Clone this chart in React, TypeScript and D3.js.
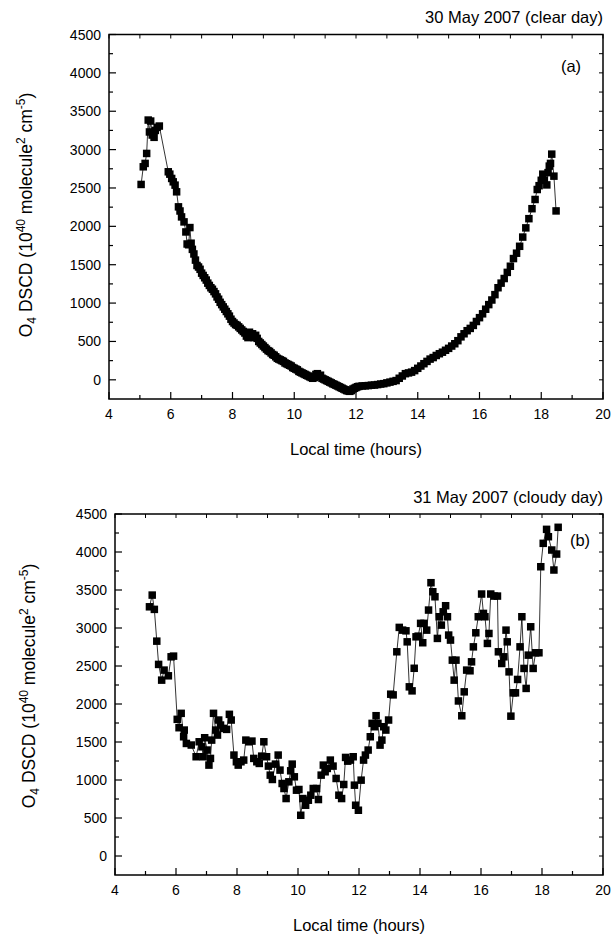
import React from 'react';
import * as d3 from 'd3';

// ---- Data: panel (a) 30 May 2007 (clear day) ----
const timesA = [
  5.04, 5.11, 5.17, 5.22, 5.27, 5.31, 5.35, 5.40, 5.46, 5.50, 5.56, 5.63,
  5.92, 5.97, 6.03, 6.08, 6.14, 6.19, 6.25, 6.30, 6.35, 6.43, 6.49, 6.53, 6.58, 6.62, 6.66,
  6.70, 6.75, 6.80, 6.85, 6.90, 6.95, 7.00, 7.05, 7.10, 7.15, 7.20, 7.25, 7.30, 7.35,
  7.40, 7.45, 7.50, 7.55, 7.60, 7.65, 7.70, 7.75, 7.80, 7.85, 7.90, 7.95, 8.00, 8.05,
  8.10, 8.15, 8.20, 8.25, 8.30, 8.35, 8.40, 8.45, 8.50, 8.55, 8.60, 8.65, 8.70, 8.75,
  8.80, 8.85, 8.90, 8.95, 9.00, 9.05, 9.10, 9.15, 9.20, 9.25, 9.30, 9.35, 9.40, 9.45,
  9.50, 9.55, 9.60, 9.65, 9.70, 9.75, 9.80, 9.85, 9.90, 9.95, 10.00, 10.05, 10.10, 10.15,
  10.20, 10.25, 10.30, 10.35, 10.40, 10.45, 10.50, 10.55, 10.60, 10.65, 10.70, 10.75,
  10.80, 10.85, 10.90, 10.95, 11.00, 11.05, 11.10, 11.15, 11.20, 11.25, 11.30, 11.35,
  11.40, 11.45, 11.50, 11.55, 11.60, 11.65, 11.70, 11.75, 11.80, 11.85, 11.90, 11.95,
  12.00, 12.05, 12.10, 12.20, 12.30, 12.40, 12.50, 12.60, 12.70, 12.80, 12.90, 13.00,
  13.10, 13.20, 13.30, 13.40, 13.50, 13.60, 13.70, 13.80, 13.90, 14.00, 14.10, 14.20,
  14.30, 14.40, 14.50, 14.60, 14.70, 14.80, 14.90, 15.00, 15.10, 15.20, 15.30, 15.40,
  15.50, 15.60, 15.70, 15.80, 15.90, 16.00, 16.10, 16.20, 16.30, 16.40, 16.50, 16.60,
  16.70, 16.80, 16.90, 17.00, 17.10, 17.20, 17.30, 17.40, 17.50, 17.60, 17.70, 17.80,
  17.87, 17.93, 18.00, 18.05, 18.10, 18.18, 18.22, 18.26, 18.30, 18.34, 18.41, 18.48,
];
const valuesA = [
  2546, 2776, 2820, 2950, 3385, 3230, 3372, 3190, 3160, 3250, 3290, 3307,
  2711, 2680, 2624, 2580, 2537, 2450, 2254, 2200, 2123, 2058, 1927, 1770, 1760, 1984, 1780,
  1700, 1640, 1560, 1490, 1470, 1440, 1390, 1360, 1330, 1300, 1260, 1230, 1200, 1180,
  1150, 1120, 1080, 1050, 1010, 980, 950, 920, 890, 860, 830, 790, 760, 740,
  720, 710, 690, 670, 650, 630, 610, 570, 550, 620, 580, 600, 550, 580,
  540, 500, 480, 460, 440, 420, 400, 380, 370, 350, 330, 320, 300, 280,
  270, 260, 250, 240, 220, 210, 200, 190, 180, 160, 150, 140, 130, 110,
  100, 90, 80, 70, 60, 50, 40, 30, 20, 30, 70, 80,
  40, 60, 20, 10, 0, -10, -20, -30, -40, -52, -60, -70,
  -80, -90, -100, -110, -120, -130, -140, -145, -150, -140, -120, -110,
  -100, -90, -85, -80, -78, -75, -70, -68, -62, -55, -50, -40,
  -30, -20, -10, 20, 50, 80, 90, 100, 120, 150, 180, 210,
  240, 270, 290, 317, 340, 360, 385, 410, 440, 470, 510, 560,
  600, 640, 670, 709, 760, 810, 860, 920, 980, 1040, 1110, 1200,
  1260, 1320, 1400, 1480, 1580, 1650, 1740, 1860, 1980, 2100, 2230, 2350,
  2480, 2530, 2600, 2680, 2600, 2540, 2700, 2785, 2820, 2941, 2654, 2201,
];

// ---- Data: panel (b) 31 May 2007 (cloudy day) ----
const timesB = [
  5.13, 5.22, 5.29, 5.37, 5.43, 5.53, 5.61, 5.75, 5.84, 5.92,
  6.04, 6.10, 6.17, 6.25, 6.27, 6.34, 6.50, 6.66, 6.76, 6.85, 6.89, 6.94,
  7.02, 7.08, 7.13, 7.17, 7.23, 7.30, 7.36, 7.40, 7.46, 7.55, 7.66, 7.75, 7.81, 7.90, 7.98,
  8.04, 8.13, 8.22, 8.29, 8.39, 8.49, 8.55, 8.65, 8.73, 8.81, 8.88, 8.97,
  9.03, 9.09, 9.16, 9.26, 9.35, 9.41, 9.48, 9.54, 9.61, 9.70, 9.76, 9.81, 9.88, 9.95,
  10.03, 10.09, 10.16, 10.25, 10.34, 10.42, 10.50, 10.61, 10.67, 10.76, 10.83, 10.89, 10.96,
  11.06, 11.15, 11.25, 11.34, 11.43, 11.50, 11.56, 11.63, 11.72, 11.81, 11.85, 11.89, 11.98,
  12.07, 12.15, 12.21, 12.30, 12.37, 12.43, 12.50, 12.56, 12.62, 12.69, 12.75, 12.81, 12.88, 12.97,
  13.04, 13.12, 13.24, 13.32, 13.43, 13.54, 13.58, 13.65, 13.74, 13.81, 13.87, 13.94,
  14.02, 14.09, 14.13, 14.22, 14.28, 14.36, 14.42, 14.49, 14.57, 14.63, 14.70, 14.76, 14.84, 14.90, 14.94,
  15.00, 15.06, 15.12, 15.18, 15.26, 15.37, 15.45, 15.53, 15.64, 15.69, 15.75, 15.83, 15.91,
  16.02, 16.08, 16.13, 16.21, 16.26, 16.32, 16.43, 16.54, 16.57, 16.68, 16.75, 16.82, 16.86, 16.92, 16.98,
  17.06, 17.13, 17.20, 17.28, 17.34, 17.41, 17.48, 17.55, 17.63, 17.71, 17.79, 17.90, 17.96,
  18.04, 18.15, 18.21, 18.32, 18.39, 18.48, 18.53,
];
const valuesB = [
  3279, 3433, 3245, 2827, 2521, 2314, 2446, 2371, 2621, 2630,
  1798, 1688, 1877, 1569, 1657, 1481, 1460, 1306, 1503, 1437, 1306, 1556,
  1394, 1196, 1284, 1525, 1877, 1657, 1591, 1789, 1723, 1679, 1666, 1864, 1789, 1328, 1240,
  1196, 1240, 1262, 1525, 1503, 1512, 1284, 1240, 1218, 1314, 1503, 1306,
  1183, 1064, 1007, 1209, 1328, 1130, 954, 888, 756, 976, 1121, 1209, 1042, 866,
  875, 536, 756, 668, 734, 800, 888, 888, 743, 1064, 1196, 1108, 1152,
  1262, 1183, 1020, 800, 756, 941, 1297, 1248, 1262, 1306, 932, 668, 602,
  998, 1262, 1328, 1394, 1569, 1745, 1701, 1846, 1745, 1459, 1525, 1701, 1657, 1789,
  2129, 2120, 2687, 3008, 2972, 2963, 2818, 2226, 2173, 2470, 2884, 2893,
  3061, 2806, 3061, 2972, 3236, 3596, 3477, 3411, 2863, 3148, 3038, 3213, 3293, 3148, 2907,
  2841, 2577, 2314, 2577, 2040, 1845, 2160, 2446, 2437, 2555, 2752, 2937, 3148,
  3447, 3192, 3148, 2797, 2928, 3447, 3420, 3420, 2687, 2533, 2621, 2972, 2818, 2423, 1840,
  2147, 2147, 2323, 2752, 3148, 2468, 2205, 2643, 3016, 2468, 2674, 2674, 3806,
  4114, 4298, 4201, 4026, 3763, 3973, 4325,
];

const xMajor = [4, 6, 8, 10, 12, 14, 16, 18, 20];
const xMinor = [5, 7, 9, 11, 13, 15, 17, 19];
const yMajor = [0, 500, 1000, 1500, 2000, 2500, 3000, 3500, 4000, 4500];
const yMinor = [250, 750, 1250, 1750, 2250, 2750, 3250, 3750, 4250];
const xDomain = [4, 20];
const yDomain = [-250, 4500];

const FONT = '"Liberation Sans", Arial, Helvetica, sans-serif';

type PanelProps = {
  times: number[];
  values: number[];
  left: number;
  right: number;
  top: number;
  bottom: number;
  title: string;
  tag: string;
  tagX: number;
  tagY: number;
  yLabelX: number;
  yLabelY: number;
};

function Panel(p: PanelProps) {
  const x = d3.scaleLinear().domain(xDomain).range([p.left, p.right]);
  const y = d3.scaleLinear().domain(yDomain).range([p.bottom, p.top]);
  const pts = p.times.map((t, i) => [t, p.values[i]] as [number, number]);
  const line = d3
    .line<[number, number]>()
    .x((d) => x(d[0]))
    .y((d) => y(d[1]));
  const S = 7.5;
  const cx = (p.left + p.right) / 2;
  return (
    <g fontFamily={FONT} fill="#000">
      {/* data */}
      <path d={line(pts) || ''} fill="none" stroke="#000" strokeWidth={0.8} />
      {pts.map((d, i) => (
        <rect key={i} x={x(d[0]) - S / 2} y={y(d[1]) - S / 2} width={S} height={S} fill="#000" />
      ))}
      {/* frame */}
      <rect x={p.left} y={p.top} width={p.right - p.left} height={p.bottom - p.top} fill="none" stroke="#000" strokeWidth={1.5} />
      {/* bottom ticks */}
      {xMajor.map((t) => (
        <line key={'xb' + t} x1={x(t)} x2={x(t)} y1={p.bottom} y2={p.bottom - 7} stroke="#000" strokeWidth={1.2} />
      ))}
      {xMinor.map((t) => (
        <line key={'xbm' + t} x1={x(t)} x2={x(t)} y1={p.bottom} y2={p.bottom - 4} stroke="#000" strokeWidth={1.2} />
      ))}
      {/* top ticks */}
      {[...xMajor, ...xMinor].map((t) => (
        <line key={'xt' + t} x1={x(t)} x2={x(t)} y1={p.top} y2={p.top + 4} stroke="#000" strokeWidth={1} />
      ))}
      {/* left ticks */}
      {yMajor.map((v) => (
        <line key={'yl' + v} x1={p.left} x2={p.left + 7} y1={y(v)} y2={y(v)} stroke="#000" strokeWidth={1.2} />
      ))}
      {yMinor.map((v) => (
        <line key={'ylm' + v} x1={p.left} x2={p.left + 4} y1={y(v)} y2={y(v)} stroke="#000" strokeWidth={1.2} />
      ))}
      {/* right ticks */}
      {[...yMajor, ...yMinor].map((v) => (
        <line key={'yr' + v} x1={p.right} x2={p.right - 4} y1={y(v)} y2={y(v)} stroke="#000" strokeWidth={1} />
      ))}
      {/* tick labels */}
      {xMajor.map((t) => (
        <text key={'xlab' + t} x={x(t)} y={p.bottom + 20} fontSize={14} textAnchor="middle">
          {t}
        </text>
      ))}
      {yMajor.map((v) => (
        <text key={'ylab' + v} x={p.left - 8} y={y(v) + 5} fontSize={14} textAnchor="end">
          {v}
        </text>
      ))}
      {/* axis titles */}
      <text x={cx} y={p.bottom + 56} fontSize={16.5} textAnchor="middle">
        Local time (hours)
      </text>
      <text transform={`translate(${p.yLabelX},${p.yLabelY}) rotate(-90)`} fontSize={17.5} textAnchor="middle">
        <tspan>O</tspan>
        <tspan fontSize={12} dy={4}>4</tspan>
        <tspan dy={-4}> DSCD (10</tspan>
        <tspan fontSize={12} dy={-7.5}>40</tspan>
        <tspan dy={7.5}> molecule</tspan>
        <tspan fontSize={12} dy={-7.5}>2</tspan>
        <tspan dy={7.5}> cm</tspan>
        <tspan fontSize={12} dy={-7.5}>-5</tspan>
        <tspan dy={7.5}>)</tspan>
      </text>
      {/* title and tag */}
      <text x={p.right} y={p.top - 11.5} fontSize={16.5} textAnchor="end">
        {p.title}
      </text>
      <text x={p.tagX} y={p.tagY} fontSize={16.5} textAnchor="middle">
        {p.tag}
      </text>
    </g>
  );
}

export default function App() {
  return (
    <svg
      width={614}
      height={940}
      style={{ position: 'absolute', left: 0, top: 0, background: '#fff', display: 'block' }}
    >
      <rect x={0} y={0} width={614} height={940} fill="#fff" />
      <Panel
        times={timesA}
        values={valuesA}
        left={109}
        right={603}
        top={34.5}
        bottom={399}
        title="30 May 2007 (clear day)"
        tag="(a)"
        tagX={571}
        tagY={72}
        yLabelX={32}
        yLabelY={215}
      />
      <Panel
        times={timesB}
        values={valuesB}
        left={115}
        right={603}
        top={514}
        bottom={875}
        title="31 May 2007 (cloudy day)"
        tag="(b)"
        tagX={580}
        tagY={546}
        yLabelX={35}
        yLabelY={686}
      />
    </svg>
  );
}
